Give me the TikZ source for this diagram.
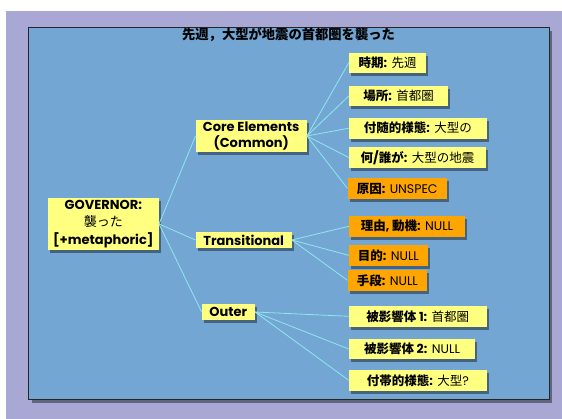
\documentclass[tikz,border=0pt]{standalone}
\usepackage{fontspec}
\setmainfont{Poppins}
\newfontfamily\jp[Scale=1.0]{Noto Sans CJK JP}
\newcommand{\J}[1]{{\jp #1}}
\usetikzlibrary{shadows}
\definecolor{bgpurple}{HTML}{A9A8D4}
\definecolor{panelblue}{HTML}{73A6D2}
\definecolor{boxyellow}{HTML}{FFFF80}
\definecolor{boxorange}{HTML}{FFA500}
\definecolor{linkcyan}{HTML}{8FE8F0}
\tikzset{
  shad/.style={drop shadow={shadow xshift=2pt,shadow yshift=-3pt,opacity=0.4,fill=black}},
  ybox/.style={shad,fill=boxyellow,inner sep=0pt,align=center,font=\fontsize{12.5}{14}\selectfont},
  obox/.style={shad,fill=boxorange,inner sep=0pt,align=center,font=\fontsize{12.5}{14}\selectfont},
  link/.style={draw=linkcyan,line width=0.8pt}
}
\begin{document}
\begin{tikzpicture}[x=1pt,y=-1pt]
\useasboundingbox (0,0) rectangle (562,419);
\fill[white] (0,0) rectangle (562,419);
\fill[bgpurple] (6,11) rectangle (562,419);
\draw[fill=panelblue,draw=black!85,line width=0.8pt,drop shadow={shadow xshift=3pt,shadow yshift=-4pt,opacity=0.4,fill=black}] (28.5,27) rectangle (549,399);
\node[font=\fontsize{13.3}{15}\selectfont\bfseries] (title) at (288.5,35) {\J{先週，大型が地震の首都圏を襲った}};

% level 1
\node[ybox,minimum width=111pt,minimum height=52pt,font=\fontsize{13}{17.5}\selectfont] (gov) at (103.3,224) {\textbf{GOVERNOR:}\\\J{襲った}\\\textbf{[+metaphoric]}};
% level 2
\node[ybox,minimum width=111pt,minimum height=32pt,font=\fontsize{13}{16.7}\selectfont\bfseries] (core) at (251.2,136) {Core Elements\\(Common)};
\node[ybox,minimum width=96pt,minimum height=15.5pt,font=\fontsize{13}{14}\selectfont\bfseries] (trans) at (243.7,240) {Transitional};
\node[ybox,minimum width=53pt,minimum height=16pt,font=\fontsize{13}{14}\selectfont\bfseries] (outer) at (228.3,312) {Outer};
% level 3
\node[ybox,minimum width=77pt,minimum height=20pt] (c1) at (387.5,62.7) {\textbf{\J{時期}:} \J{先週}};
\node[ybox,minimum width=99pt,minimum height=20pt] (c2) at (398.5,96) {\textbf{\J{場所}:} \J{首都圏}};
\node[ybox,minimum width=137.7pt,minimum height=21pt] (c3) at (417.8,128.2) {\textbf{\J{付随的様態}:} \J{大型の}};
\node[ybox,minimum width=137pt,minimum height=21pt] (c4) at (417.5,157.5) {\textbf{\J{何}/\J{誰が}:} \J{大型の地震}};
\node[obox,minimum width=99pt,minimum height=21pt] (c5) at (397.2,188.5) {\textbf{\J{原因}:} UNSPEC};
\node[obox,minimum width=116pt,minimum height=20.7pt] (t1) at (407,226.3) {\textbf{\J{理由}, \J{動機}:} NULL};
\node[obox,minimum width=78.7pt,minimum height=20.7pt] (t2) at (388.3,255.3) {\textbf{\J{目的}:} NULL};
\node[obox,minimum width=79.3pt,minimum height=20.7pt] (t3) at (387.3,280.3) {\textbf{\J{手段}:} NULL};
\node[ybox,minimum width=137.7pt,minimum height=20.7pt] (o1) at (417.8,316.3) {\textbf{\J{被影響体} 1:} \J{首都圏}};
\node[ybox,minimum width=126pt,minimum height=20pt] (o2) at (412,349) {\textbf{\J{被影響体} 2:} NULL};
\node[ybox,minimum width=137.7pt,minimum height=20.7pt] (o3) at (417.8,380.3) {\textbf{\J{付帯的様態}:} \J{大型}?};

% links
\draw[link] (gov.east) -- (core.west);
\draw[link] (gov.east) -- (trans.west);
\draw[link] (gov.east) -- (outer.west);
\foreach \c in {c1,c2,c3,c4,c5} \draw[link] (core.east) -- (\c.west);
\foreach \c in {t1,t2,t3} \draw[link] (trans.east) -- (\c.west);
\foreach \c in {o1,o2,o3} \draw[link] (outer.east) -- (\c.west);
\end{tikzpicture}
\end{document}
